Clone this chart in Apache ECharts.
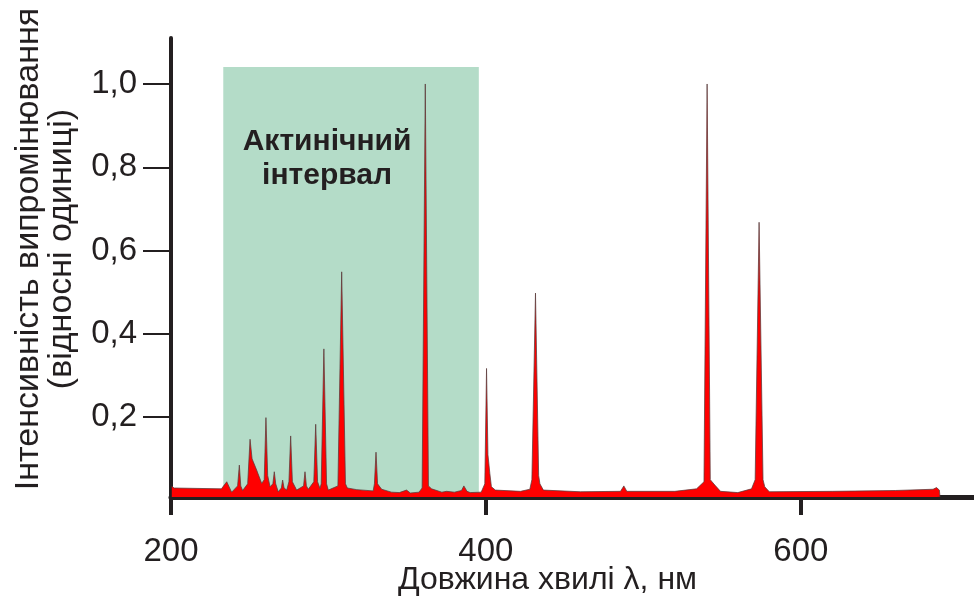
<!DOCTYPE html>
<html><head><meta charset="utf-8">
<script src="https://cdn.jsdelivr.net/npm/echarts@6/dist/echarts.min.js"></script>
<style>html,body{margin:0;padding:0;background:#fff}#c{width:974px;height:597px}</style>
</head><body><div id="c"></div>
<script>
// Emission spectrum: wavelength (nm) and relative intensity
const wavelength = [
  200.5, 202, 232, 235.4, 238.5, 242.3, 243.4, 244.3, 245.5,
  248.7, 250.2, 251.5, 254.4, 257.6,
  259.2, 260.3, 261.4, 262.9,
  264.7, 265.6, 266.5, 268.1,
  270.1, 270.9, 271.8, 273.5,
  274.9, 276, 277.1, 279.8,
  284.2, 285.1, 286, 287.2,
  290.7, 291.9, 293.1, 294.6,
  295.4, 297.1, 298.8, 299.9,
  306, 308.4, 310.8, 312, 318, 328.4,
  329.2, 330.2, 331.2, 333.8,
  340, 345, 349.6, 352, 357.5,
  359.5, 361.5, 363.5, 365.5,
  372, 375, 380, 384.5, 386, 388, 390, 397,
  399.3, 400.4, 401.3, 402.5, 403.5, 406,
  422, 427.9, 429.2, 431.5, 433.5, 434.3, 436.5,
  460, 485.5, 487.6, 489.5, 520, 533.8,
  538.5, 540.5, 542.5, 545.4, 549, 560, 568.7,
  571, 573.5, 576, 577.1, 580,
  620, 660, 684, 686.2, 688, 688.4
];
const intensity = [
  0.034, 0.030, 0.028, 0.045, 0.020, 0.035, 0.085, 0.035, 0.024,
  0.040, 0.147, 0.100, 0.073, 0.041,
  0.050, 0.199, 0.060, 0.033,
  0.040, 0.069, 0.040, 0.021,
  0.030, 0.049, 0.030, 0.025,
  0.045, 0.155, 0.045, 0.025,
  0.035, 0.069, 0.035, 0.027,
  0.045, 0.183, 0.045, 0.029,
  0.040, 0.364, 0.040, 0.025,
  0.035, 0.549, 0.040, 0.030, 0.026, 0.023,
  0.040, 0.116, 0.040, 0.027,
  0.020, 0.019, 0.025, 0.018, 0.020,
  0.030, 1.000, 0.035, 0.028,
  0.020, 0.022, 0.020, 0.024, 0.035, 0.022, 0.019, 0.020,
  0.040, 0.317, 0.110, 0.065, 0.033, 0.025,
  0.022, 0.027, 0.050, 0.498, 0.060, 0.040, 0.025,
  0.021, 0.022, 0.035, 0.022, 0.022, 0.028,
  0.045, 1.000, 0.050, 0.037, 0.022, 0.019, 0.028,
  0.050, 0.668, 0.050, 0.033, 0.021,
  0.022, 0.024, 0.027, 0.031, 0.025, 0.009
];
const xTicks = [200, 400, 600];
const yTicks = [0.2, 0.4, 0.6, 0.8, 1.0];
const actinicInterval = [233.2, 395.5];
const actinicTop = 1.041;
const areaLabel = 'Актинічний\nінтервал';
const xAxisName = 'Довжина хвилі λ, нм';
const yAxisNameLines = ['Інтенсивність випромінювання', '(відносні одиниці)'];

const ink = '#231f20';
const font = 'Liberation Sans, Arial, Helvetica, sans-serif';
const seriesData = wavelength.map((w, i) => [w, intensity[i]]);

const chart = echarts.init(document.getElementById('c'), null, {renderer: 'canvas'});
chart.setOption({
  animation: false,
  backgroundColor: '#ffffff',
  grid: {left: 171, right: 0, top: 38, bottom: 100, containLabel: false, outerBoundsMode: 'none'},
  xAxis: {
    type: 'value', min: 200, max: 710,
    axisLine: {show: true, lineStyle: {color: ink, width: 5}},
    axisTick: {show: true, customValues: xTicks, length: 18, lineStyle: {color: ink, width: 4}},
    axisLabel: {show: true, customValues: xTicks, margin: 38, color: ink, fontSize: 33, fontFamily: font},
    splitLine: {show: false},
    name: xAxisName, nameLocation: 'middle', nameGap: 67, nameMoveOverlap: false,
    nameTextStyle: {color: ink, fontSize: 32, fontFamily: font, padding: [0, 50, 0, 0]}
  },
  yAxis: {
    type: 'value', min: 0.0084, max: 1.1104,
    axisLine: {show: true, lineStyle: {color: ink, width: 4}},
    axisTick: {show: true, customValues: yTicks, length: 28, lineStyle: {color: ink, width: 2}},
    axisLabel: {show: true, customValues: yTicks, margin: 34, color: ink, fontSize: 33, fontFamily: font,
      formatter: v => v.toFixed(1).replace('.', ',')},
    splitLine: {show: false}
  },
  graphic: yAxisNameLines.map((t, i) => ({
    type: 'text', x: 29 + i * 33, y: 249, rotation: Math.PI / 2,
    style: {text: t, fill: ink, fontSize: 34, fontFamily: font, align: 'center', verticalAlign: 'middle'}
  })),
  series: [{
    type: 'line', data: seriesData, symbol: 'none', smooth: false, z: 3,
    lineStyle: {color: 'rgba(90,60,60,0.75)', width: 1},
    areaStyle: {color: '#ff0000', opacity: 1, origin: 'start'},
    markArea: {
      silent: true, z: 1,
      itemStyle: {color: '#b4dcc8', opacity: 1},
      label: {show: true, position: 'insideTop', distance: 58, offset: [-24, 0],
        color: ink, fontSize: 30, fontWeight: 'bold', fontFamily: font, lineHeight: 34, align: 'center'},
      data: [[{xAxis: actinicInterval[0], yAxis: actinicTop, name: areaLabel}, {xAxis: actinicInterval[1], yAxis: 0.0084}]]
    }
  }]
});
</script></body></html>
